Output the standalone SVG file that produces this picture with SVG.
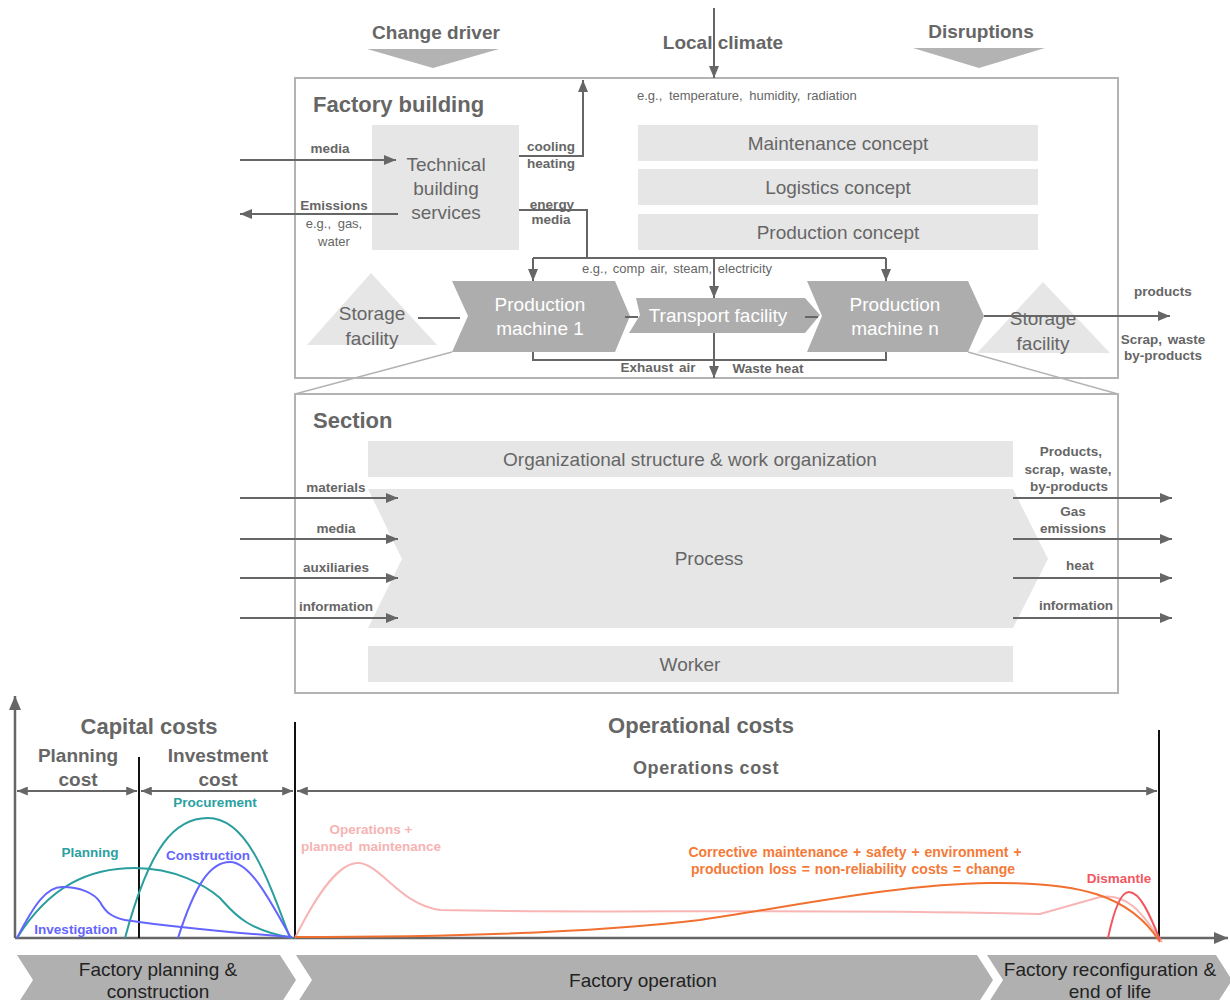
<svg xmlns="http://www.w3.org/2000/svg" width="1230" height="1000" viewBox="0 0 1230 1000">
  <defs>
    <style>
      text { font-family: "Liberation Sans", Arial, sans-serif; }
      .frame { fill: #ffffff; stroke: #b3b3b3; stroke-width: 2; }
      .box { fill: #e6e6e6; }
      .dark { fill: #adadad; }
      .boxtxt { fill: #666666; font-size: 19px; text-anchor: middle; }
      .whitetxt { fill: #ffffff; font-size: 19px; text-anchor: middle; }
      .head { fill: #666666; font-size: 22px; font-weight: bold; }
      .lbl { fill: #666666; font-size: 13.5px; font-weight: bold; text-anchor: middle; }
      .note { fill: #666666; font-size: 13px; }
      .conn { fill: none; stroke: #666666; stroke-width: 2; }
      .thin { fill: none; stroke: #b3b3b3; stroke-width: 1.5; }
      .axis { fill: none; stroke: #666666; stroke-width: 2.5; }
      .phase { fill: #b0b0b0; }
      .phasetxt { fill: #222222; font-size: 19px; text-anchor: middle; }
      .curve { fill: none; stroke-width: 2; }
      .clbl { font-size: 13.5px; font-weight: bold; text-anchor: middle; }
    </style>
    <marker id="ah" viewBox="0 0 12 10" refX="12" refY="5" markerWidth="12" markerHeight="10" orient="auto-start-reverse" markerUnits="userSpaceOnUse">
      <path d="M0,0 L12,5 L0,10 z" fill="#666666"/>
    </marker>
    <marker id="ahs" viewBox="0 0 12 10" refX="12" refY="5" markerWidth="11" markerHeight="9" orient="auto-start-reverse" markerUnits="userSpaceOnUse">
      <path d="M0,0 L12,5 L0,10 z" fill="#666666"/>
    </marker>
    <marker id="ahl" viewBox="0 0 14 12" refX="14" refY="6" markerWidth="14" markerHeight="12" orient="auto" markerUnits="userSpaceOnUse">
      <path d="M0,0 L14,6 L0,12 z" fill="#666666"/>
    </marker>
  </defs>

  <!-- external influences -->
  <g id="change-driver">
    <text x="436" y="39" class="head" style="font-size:19px" text-anchor="middle">Change driver</text>
    <polygon points="367,49 499,49 433,68" fill="#b3b3b3"/>
  </g>
  <g id="local-climate">
    <text x="723" y="49" class="head" style="font-size:19px" text-anchor="middle">Local climate</text>
  </g>
  <g id="disruptions">
    <text x="981" y="38" class="head" style="font-size:19px" text-anchor="middle">Disruptions</text>
    <polygon points="913,48 1045,48 979,68" fill="#b3b3b3"/>
  </g>

  <!-- factory building frame -->
  <g id="factory-building">
    <rect x="295" y="78" width="823" height="300" class="frame"/>
    <text x="313" y="112" class="head">Factory building</text>
    <text x="637" y="100" class="note" word-spacing="3">e.g., temperature, humidity, radiation</text>
  </g>

  <!-- section frame and zoom lines -->
  <g id="section">
    <line x1="452" y1="352" x2="295" y2="394" class="thin"/>
    <line x1="968" y1="352" x2="1118" y2="394" class="thin"/>
    <rect x="295" y="394" width="823" height="299" class="frame"/>
    <text x="313" y="428" class="head">Section</text>
  </g>

  <g id="technical-building-services">
    <rect x="372" y="125" width="147" height="125" class="box"/>
    <text x="446" y="171" class="boxtxt">Technical</text>
    <text x="446" y="195" class="boxtxt">building</text>
    <text x="446" y="219" class="boxtxt">services</text>
  </g>

  <g id="maintenance-concept">
    <rect x="638" y="125" width="400" height="36" class="box"/>
    <text x="838" y="150" class="boxtxt">Maintenance concept</text>
  </g>
  <g id="logistics-concept">
    <rect x="638" y="169" width="400" height="36" class="box"/>
    <text x="838" y="194" class="boxtxt">Logistics concept</text>
  </g>
  <g id="production-concept">
    <rect x="638" y="214" width="400" height="36" class="box"/>
    <text x="838" y="239" class="boxtxt">Production concept</text>
  </g>

  <g id="storage-in">
    <polygon points="307,345 371,273 437,345" class="box"/>
    <text x="372" y="320" class="boxtxt">Storage</text>
    <text x="372" y="345" class="boxtxt">facility</text>
  </g>

  <g id="production-machine-1">
    <polygon points="452,281 615,281 630,316 615,352 452,352 468,316" class="dark"/>
    <text x="540" y="311" class="whitetxt">Production</text>
    <text x="540" y="335" class="whitetxt">machine 1</text>
  </g>

  <g id="transport-facility">
    <polygon points="636,298 805,298 820,315 805,333 629,333 640,315" class="dark"/>
    <text x="718" y="322" class="whitetxt">Transport facility</text>
  </g>

  <g id="production-machine-n">
    <polygon points="807,281 968,281 984,316 968,352 807,352 822,316" class="dark"/>
    <text x="895" y="311" class="whitetxt">Production</text>
    <text x="895" y="335" class="whitetxt">machine n</text>
  </g>

  <g id="storage-out">
    <polygon points="977,353 1043,282 1110,353" class="box"/>
    <text x="1043" y="325" class="boxtxt">Storage</text>
    <text x="1043" y="350" class="boxtxt">facility</text>
  </g>

  <g id="organizational-structure">
    <rect x="368" y="441" width="645" height="36" class="box"/>
    <text x="690" y="466" class="boxtxt">Organizational structure &amp; work organization</text>
  </g>
  <g id="process">
    <polygon points="368,489 1013,489 1048,559 1013,628 368,628 402,559" class="box"/>
    <text x="709" y="565" class="boxtxt">Process</text>
  </g>
  <g id="worker">
    <rect x="368" y="646" width="645" height="36" class="box"/>
    <text x="690" y="671" class="boxtxt">Worker</text>
  </g>

  <!-- connectors -->
  <g id="connectors">
    <line x1="714" y1="8" x2="714" y2="78" class="conn" marker-end="url(#ah)"/>
    <line x1="240" y1="160" x2="396" y2="160" class="conn" marker-end="url(#ah)"/>
    <line x1="398" y1="214" x2="240" y2="214" class="conn" marker-end="url(#ah)"/>
    <polyline points="519,156 583,156 583,80" class="conn" marker-end="url(#ah)"/>
    <polyline points="519,210 587,210 587,258" class="conn"/>
    <line x1="533" y1="258" x2="886" y2="258" class="conn"/>
    <line x1="533" y1="258" x2="533" y2="281" class="conn" marker-end="url(#ah)"/>
    <line x1="714" y1="258" x2="714" y2="298" class="conn" marker-end="url(#ah)"/>
    <line x1="886" y1="258" x2="886" y2="281" class="conn" marker-end="url(#ah)"/>
    <line x1="418" y1="318" x2="460" y2="318" class="conn"/>
    <line x1="625" y1="317" x2="638" y2="317" class="conn"/>
    <line x1="805" y1="317" x2="818" y2="317" class="conn"/>
    <line x1="984" y1="316" x2="1170" y2="316" class="conn" marker-end="url(#ah)"/>
    <polyline points="533,352 533,360 886,360 886,352" class="conn"/>
    <line x1="714" y1="333" x2="714" y2="378" class="conn" marker-end="url(#ah)"/>

    <line x1="240" y1="498" x2="398" y2="498" class="conn" marker-end="url(#ah)"/>
    <line x1="240" y1="539" x2="398" y2="539" class="conn" marker-end="url(#ah)"/>
    <line x1="240" y1="578" x2="398" y2="578" class="conn" marker-end="url(#ah)"/>
    <line x1="240" y1="618" x2="398" y2="618" class="conn" marker-end="url(#ah)"/>
    <line x1="1013" y1="498" x2="1172" y2="498" class="conn" marker-end="url(#ah)"/>
    <line x1="1013" y1="539" x2="1172" y2="539" class="conn" marker-end="url(#ah)"/>
    <line x1="1013" y1="578" x2="1172" y2="578" class="conn" marker-end="url(#ah)"/>
    <line x1="1013" y1="618" x2="1172" y2="618" class="conn" marker-end="url(#ah)"/>
  </g>

  <!-- connector labels -->
  <g id="connector-labels">
    <text x="330" y="153" class="lbl">media</text>
    <text x="334" y="210" class="lbl">Emissions</text>
    <text x="334" y="228" class="note" text-anchor="middle" word-spacing="3">e.g., gas,</text>
    <text x="334" y="246" class="note" text-anchor="middle">water</text>
    <text x="551" y="151" class="lbl">cooling</text>
    <text x="551" y="168" class="lbl">heating</text>
    <text x="552" y="209" class="lbl">energy</text>
    <text x="551" y="224" class="lbl">media</text>
    <text x="677" y="273" class="note" text-anchor="middle" word-spacing="2">e.g., comp air, steam, electricity</text>
    <text x="1163" y="296" class="lbl">products</text>
    <text x="1163" y="344" class="lbl" word-spacing="2">Scrap, waste</text>
    <text x="1163" y="360" class="lbl">by-products</text>
    <text x="658" y="372" class="lbl" word-spacing="2">Exhaust air</text>
    <text x="768" y="373" class="lbl">Waste heat</text>

    <text x="336" y="492" class="lbl">materials</text>
    <text x="336" y="533" class="lbl">media</text>
    <text x="336" y="572" class="lbl">auxiliaries</text>
    <text x="336" y="611" class="lbl">information</text>
    <text x="1071" y="456" class="lbl">Products,</text>
    <text x="1068" y="474" class="lbl" word-spacing="2">scrap, waste,</text>
    <text x="1069" y="491" class="lbl">by-products</text>
    <text x="1073" y="516" class="lbl">Gas</text>
    <text x="1073" y="533" class="lbl">emissions</text>
    <text x="1080" y="570" class="lbl">heat</text>
    <text x="1076" y="610" class="lbl">information</text>
  </g>

  <!-- life cycle cost chart -->
  <g id="cost-chart">
    <line x1="15" y1="938" x2="15" y2="696" class="axis" marker-end="url(#ahl)"/>
    <line x1="15" y1="938" x2="1228" y2="938" class="axis" marker-end="url(#ahl)"/>
    <line x1="139" y1="757" x2="139" y2="938" stroke="#111" stroke-width="2"/>
    <line x1="295" y1="722" x2="295" y2="938" stroke="#111" stroke-width="2"/>
    <line x1="1159" y1="730" x2="1159" y2="938" stroke="#111" stroke-width="2"/>

    <text x="149" y="734" class="head" text-anchor="middle">Capital costs</text>
    <text x="78" y="762" class="head" style="font-size:19px" text-anchor="middle">Planning</text>
    <text x="78" y="786" class="head" style="font-size:19px" text-anchor="middle">cost</text>
    <text x="218" y="762" class="head" style="font-size:19px" text-anchor="middle">Investment</text>
    <text x="218" y="786" class="head" style="font-size:19px" text-anchor="middle">cost</text>
    <text x="701" y="733" class="head" text-anchor="middle">Operational costs</text>
    <text x="706" y="774" class="head" style="font-size:18px" letter-spacing="0.6" text-anchor="middle">Operations cost</text>

    <line x1="17" y1="791" x2="137" y2="791" class="conn" marker-start="url(#ahs)" marker-end="url(#ahs)"/>
    <line x1="141" y1="791" x2="293" y2="791" class="conn" marker-start="url(#ahs)" marker-end="url(#ahs)"/>
    <line x1="297" y1="791" x2="1157" y2="791" class="conn" marker-start="url(#ahs)" marker-end="url(#ahs)"/>

    <!-- capital cost curves -->
    <path d="M17,938 C50,885 90,868 135,868 C175,868 205,885 220,898 C233,912 245,930 293,938" class="curve" stroke="#2a9d9d"/>
    <path d="M125,938 C150,845 175,818 208,818 C245,818 265,870 290,938" class="curve" stroke="#2a9d9d"/>
    <path d="M178,938 C195,885 210,862 230,862 C250,862 270,900 291,938" class="curve" stroke="#6464ff"/>
    <path d="M17,938 C35,903 47,887 62,887 C80,887 94,893 100,902 C106,913 112,917 125,920 C180,928 250,934 292,937" class="curve" stroke="#6464ff"/>

    <!-- operating cost curves -->
    <path d="M295,938 C320,888 340,863 358,863 C380,863 400,905 440,910 C600,914 800,908 1040,914 L1100,897 C1130,892 1145,918 1162,942" class="curve" stroke="#f7b5b5"/>
    <path d="M295,937 C450,937 600,932 700,920 C800,905 900,884 990,883 C1080,882 1130,895 1160,942" class="curve" stroke="#f07030"/>
    <path d="M1108,938 C1115,905 1122,892 1129,892 C1140,892 1150,915 1160,940" class="curve" stroke="#f2575f"/>

    <text x="90" y="857" class="clbl" fill="#2aa0a0">Planning</text>
    <text x="215" y="807" class="clbl" fill="#2aa0a0">Procurement</text>
    <text x="208" y="860" class="clbl" fill="#6464ff">Construction</text>
    <text x="76" y="934" class="clbl" fill="#6464ff">Investigation</text>
    <text x="371" y="834" class="clbl" fill="#f6b3b3">Operations +</text>
    <text x="371" y="851" class="clbl" fill="#f6b3b3" word-spacing="2">planned maintenance</text>
    <text x="855" y="857" class="clbl" fill="#f47a3a" style="font-size:14px" word-spacing="1">Corrective maintenance  + safety + environment +</text>
    <text x="853" y="874" class="clbl" fill="#f47a3a" style="font-size:14px" word-spacing="1">production loss = non-reliability costs = change</text>
    <text x="1119" y="883" class="clbl" fill="#f2575f">Dismantle</text>
  </g>

  <!-- life cycle phases -->
  <g id="phase-planning">
    <polygon points="17,955 280,955 296,980 280,1005 17,1005 33,980" class="phase"/>
    <text x="158" y="976" class="phasetxt">Factory planning &amp;</text>
    <text x="158" y="998" class="phasetxt">construction</text>
  </g>
  <g id="phase-operation">
    <polygon points="296,955 977,955 993,980 977,1005 296,1005 312,980" class="phase"/>
    <text x="643" y="987" class="phasetxt">Factory operation</text>
  </g>
  <g id="phase-end-of-life">
    <polygon points="987,955 1216,955 1232,980 1216,1005 987,1005 1003,980" class="phase"/>
    <text x="1110" y="976" class="phasetxt">Factory reconfiguration &amp;</text>
    <text x="1110" y="998" class="phasetxt">end of life</text>
  </g>
</svg>
